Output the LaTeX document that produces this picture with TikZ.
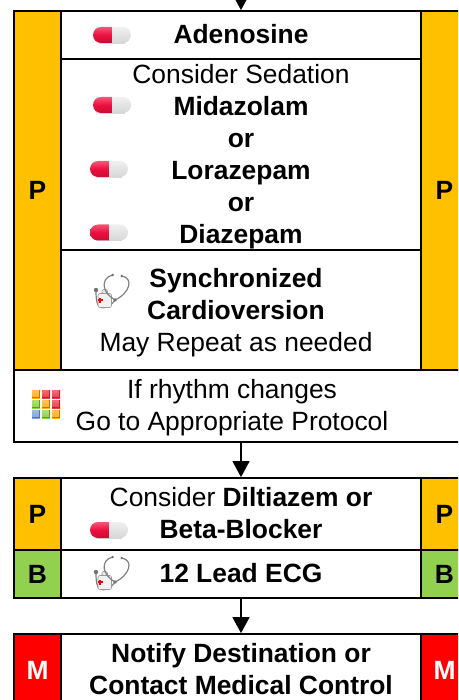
\documentclass[tikz,border=0pt]{standalone}
\usepackage{fontspec}
\setmainfont{Liberation Sans}
\usepackage{xcolor}
\usetikzlibrary{arrows.meta,shapes,calc}
\definecolor{railP}{HTML}{FFC000}
\definecolor{railB}{HTML}{92D050}
\definecolor{railM}{HTML}{FF0000}
\definecolor{pillred}{HTML}{EC0F3E}
\definecolor{gridorange}{HTML}{FFB020}
\definecolor{gridred}{HTML}{EE3A48}
\definecolor{gridgreen}{HTML}{8FD540}
\definecolor{gridblue}{HTML}{7FA8D8}
\tikzset{
	pillicon/.pic={
		\fill [black!15] (-13,7) rectangle (13,9);
		\shade [top color=pillred!70!white, bottom color=pillred!85!black, middle color=pillred] (0,-8) -- (-11,-8) arc (-90:-270:8) -- (0,8) -- cycle;
		\shade [top color=black!6, bottom color=black!16] (0,-8) -- (11,-8) arc (-90:90:8) -- (0,8) -- cycle;
	},
	stethicon/.pic={
		\draw [black!50, line width=1.2pt] (5,7) .. controls (0,15) and (-9,17) .. (-12,12) .. controls (-14,8) and (-14,2) .. (-14,-3);
		\fill [black!8, draw=black!40, line width=0.6pt, rounded corners=1.5pt] (-8,-3.5) rectangle (-2.5,1);
		\fill [black!5, draw=black!40, line width=0.6pt, rounded corners=2pt] (-12,0.5) rectangle (1.5,14.5);
		\fill [railM] (-12.5,6.2) rectangle (-7.5,8.4);
		\fill [railM] (-11.1,4.8) rectangle (-8.9,9.8);
		\draw [black!50, line width=1.2pt] (2.7,-18) .. controls (-10,-15) and (-8,0) .. (5,7);
		\draw [black!50, line width=1.2pt] (11.7,-17) .. controls (24,-15) and (20,0) .. (5,7);
		\fill [black!55] (-14,-3) circle (2.2);
		\fill [black!55] (5,7) circle (1.8);
		\fill [black!55] (2.7,-18) circle (1.3);
		\fill [black!55] (11.7,-17) circle (1.3);
	}
}
\begin{document}
\begin{tikzpicture}[x=1pt,y=-1pt]
	\tikzstyle{every node}=[font=\fontsize{26.4}{32}\selectfont]
	\tikzstyle{cellbox}=[draw, line width=1.8pt, fill=white, inner sep=0pt, align=center]
	\tikzstyle{railbox}=[cellbox, minimum width=47pt, font=\fontsize{26.4}{32}\selectfont\bfseries]
	\tikzstyle{celltext}=[inner sep=0pt, align=center]
	\tikzstyle{flowarrow}=[line width=1.5pt, -{Triangle[length=16pt,width=17pt]}]
	\path [use as bounding box, clip] (0,0) rectangle (458,700);
	% first block
	\node [railbox, fill=railP, minimum height=359pt] (railPa) at (37.5,190.5) {P};
	\node [railbox, fill=railP, minimum height=359pt] (railPb) at (444.5,190.5) {P};
	\node [cellbox, minimum width=360pt, minimum height=48pt] (adenosine) at (241,35) {};
	\node [cellbox, minimum width=360pt, minimum height=191pt] (sedation) at (241,154.5) {};
	\node [cellbox, minimum width=360pt, minimum height=120pt] (cardio) at (241,310) {};
	\node [cellbox, minimum width=454pt, minimum height=72pt] (rhythm) at (241,406) {};
	\node [celltext] (adenosinetext) at (241,34) {\textbf{Adenosine}};
	\node [celltext] (sedationtext) at (241,156.5) {Consider Sedation\\\textbf{Midazolam}\\\textbf{or}\\\textbf{Lorazepam}\\\textbf{or}\\\textbf{Diazepam}};
	\node [celltext] (cardiotext) at (236,313) {\textbf{Synchronized}\\\textbf{Cardioversion}\\May Repeat as needed};
	\node [celltext] (rhythmtext) at (232,408) {If rhythm changes\\Go to Appropriate Protocol};
	% second block
	\node [railbox, fill=railP, minimum height=72pt] (railPc) at (37.5,514) {P};
	\node [railbox, fill=railP, minimum height=72pt] (railPd) at (444.5,514) {P};
	\node [railbox, fill=railB, minimum height=48pt] (railBa) at (37.5,574) {B};
	\node [railbox, fill=railB, minimum height=48pt] (railBb) at (444.5,574) {B};
	\node [cellbox, minimum width=360pt, minimum height=72pt] (diltiazem) at (241,514) {};
	\node [cellbox, minimum width=360pt, minimum height=48pt] (ecg) at (241,574) {};
	\node [celltext] (diltiazemtext) at (241,513) {Consider \textbf{Diltiazem or}\\\textbf{Beta-Blocker}};
	\node [celltext] (ecgtext) at (241,573) {\textbf{12 Lead ECG}};
	% third block
	\node [railbox, fill=railM, text=white, minimum height=72pt] (railMa) at (37.5,670) {M};
	\node [railbox, fill=railM, text=white, minimum height=72pt] (railMb) at (444.5,670) {M};
	\node [cellbox, minimum width=360pt, minimum height=72pt] (notify) at (241,670) {};
	\node [celltext] (notifytext) at (241,669) {\textbf{Notify Destination or}\\\textbf{Contact Medical Control}};
	% arrows
	\coordinate (entry) at (241,-5);
	\draw [flowarrow] (entry) -- (adenosine.north);
	\draw [flowarrow] (rhythm.south) -- (diltiazem.north);
	\draw [flowarrow] (ecg.south) -- (notify.north);
	% icons
	\pic at (112,35) {pillicon};
	\pic at (112,105) {pillicon};
	\pic at (109,169) {pillicon};
	\pic at (109,232.5) {pillicon};
	\pic at (109,530) {pillicon};
	\pic at (110,293) {stethicon};
	\pic at (110,575) {stethicon};
	\foreach \col/\row/\tone in {0/0/gridorange,1/0/gridred,2/0/gridred,0/1/gridgreen,1/1/gridorange,2/1/gridred,0/2/gridblue,1/2/gridgreen,2/2/gridorange} {
		\shade [top color=\tone!75!white, bottom color=\tone] ({32+10*\col},{390+10*\row}) rectangle ++(8,8);
		\draw [\tone!70!black, line width=0.8pt] ({39.6+10*\col},{390+10*\row}) -- ++(0,7.6) -- ++(-7.6,0);
	}
\end{tikzpicture}
\end{document}
